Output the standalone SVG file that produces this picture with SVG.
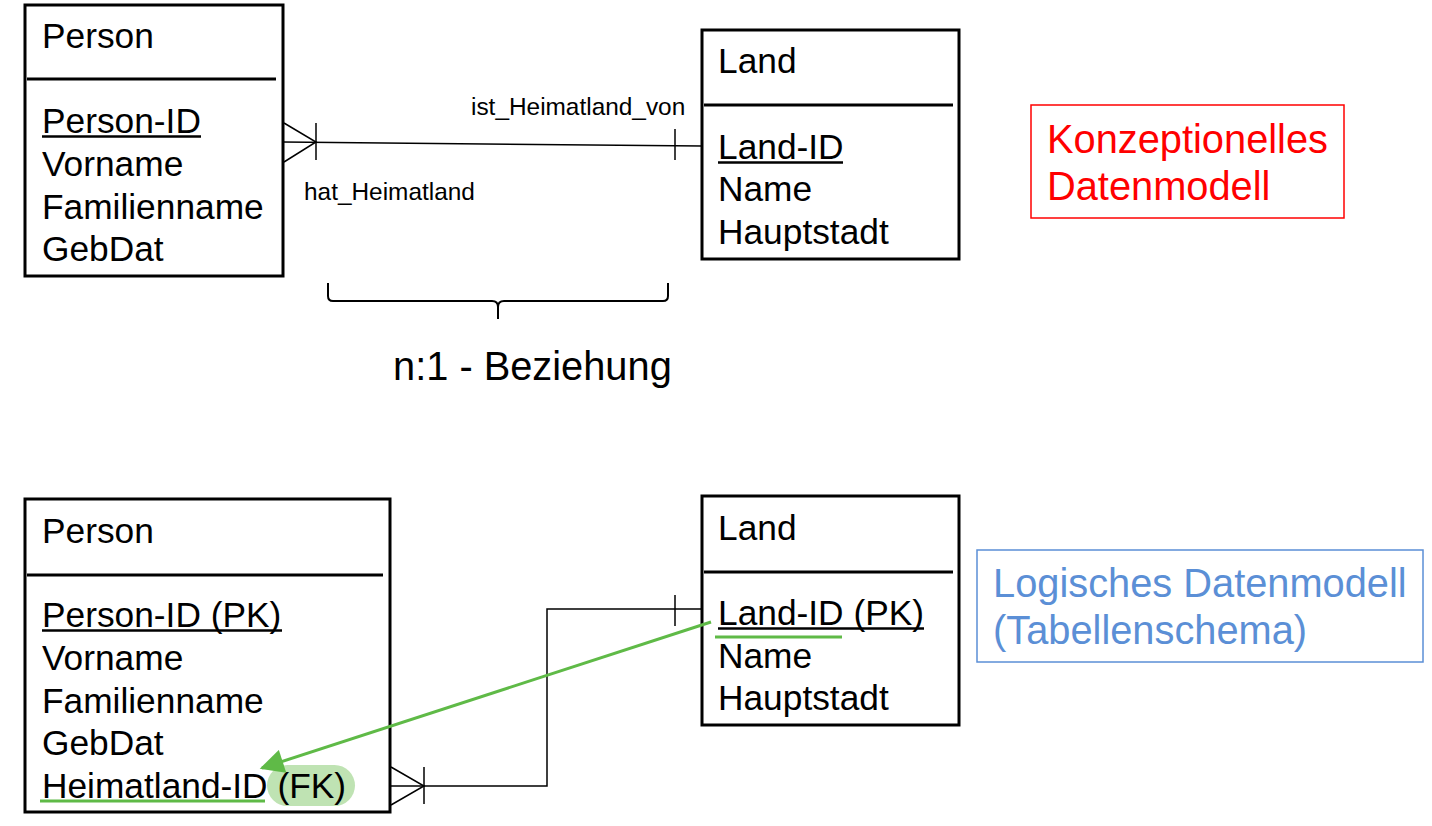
<svg xmlns="http://www.w3.org/2000/svg" width="1432" height="826" viewBox="0 0 1432 826">
<style>
.box{fill:#fff;stroke:#000;stroke-width:3}
.div{stroke:#000;stroke-width:3}
.t{font-family:"Liberation Sans",Arial,sans-serif;font-size:35.3px;fill:#000}
.ul{stroke:#000;stroke-width:2.4}
.lbl{font-family:"Liberation Sans",Arial,sans-serif;font-size:24.4px;fill:#000}
.big{font-family:"Liberation Sans",Arial,sans-serif;font-size:39.8px}
.con{fill:none;stroke:#000;stroke-width:1.5}
.green{stroke:#5fba47;stroke-width:3;fill:none}
</style>
<defs>
<marker id="garrow" viewBox="0 0 10 10" refX="9" refY="5" markerWidth="9" markerHeight="8" markerUnits="strokeWidth" orient="auto">
<path d="M0,0 L10,5 L0,10 z" fill="#5fba47"/>
</marker>
</defs>
<rect width="1432" height="826" fill="#fff"/>

<g id="person-top">
<rect class="box" x="25" y="5" width="258" height="271"/>
<line class="div" x1="27" y1="79" x2="276" y2="79"/>
<text class="t" x="42" y="48">Person</text>
<text class="t" x="42" y="133">Person-ID</text>
<line class="ul" x1="42" y1="136.5" x2="201" y2="136.5"/>
<text class="t" x="42" y="176">Vorname</text>
<text class="t" x="42" y="219">Familienname</text>
<text class="t" x="42" y="261">GebDat</text>
</g>

<g id="land-top">
<rect class="box" x="702" y="30" width="257" height="229"/>
<line class="div" x1="704" y1="105" x2="953" y2="105"/>
<text class="t" x="718" y="73">Land</text>
<text class="t" x="718" y="159">Land-ID</text>
<line class="ul" x1="718" y1="162.5" x2="843" y2="162.5"/>
<text class="t" x="718" y="201">Name</text>
<text class="t" x="718" y="244">Hauptstadt</text>
</g>

<g id="label-konzeptionell">
<rect x="1031" y="105" width="313" height="113" fill="#fff" stroke="#ff0000" stroke-width="1.5"/>
<text class="big" x="1047" y="153" fill="#ff0000">Konzeptionelles</text>
<text class="big" x="1047" y="200" fill="#ff0000">Datenmodell</text>
</g>

<g id="beziehung">
<path d="M328,283 L328,296 Q328,301 333,301 L492,301 Q498,301 498,307 L498,319 M498,307 Q498,301 504,301 L663,301 Q668,301 668,296 L668,283" fill="none" stroke="#000" stroke-width="2"/>
<text class="big" x="393" y="380" fill="#000">n:1 - Beziehung</text>
</g>

<g id="person-bottom">
<rect class="box" x="25" y="499" width="365" height="313"/>
<line class="div" x1="27" y1="575" x2="383" y2="575"/>
<text class="t" x="42" y="543">Person</text>
<text class="t" x="42" y="627">Person-ID (PK)</text>
<line class="ul" x1="42" y1="630.5" x2="282" y2="630.5"/>
<text class="t" x="42" y="670">Vorname</text>
<text class="t" x="42" y="713">Familienname</text>
<text class="t" x="42" y="755">GebDat</text>
<rect x="267" y="765" width="88" height="41" rx="20.5" fill="#bfe3b3"/>
<text class="t" x="42" y="798">Heimatland-ID (FK)</text>
<line class="green" x1="40" y1="801" x2="265" y2="801"/>
</g>

<g id="land-bottom">
<rect class="box" x="702" y="496" width="257" height="229"/>
<line class="div" x1="704" y1="572" x2="953" y2="572"/>
<text class="t" x="718" y="540">Land</text>
<text class="t" x="718" y="625">Land-ID (PK)</text>
<line class="ul" x1="718" y1="628.5" x2="924" y2="628.5"/>
<text class="t" x="718" y="668">Name</text>
<text class="t" x="718" y="710">Hauptstadt</text>
<line class="green" x1="715" y1="637" x2="842" y2="637"/>
</g>

<g id="label-logisch">
<rect x="977" y="550" width="446" height="112" fill="#fff" stroke="#5b8fd6" stroke-width="1.5"/>
<text class="big" x="993" y="597" fill="#5b8fd6">Logisches Datenmodell</text>
<text class="big" x="993" y="644" fill="#5b8fd6">(Tabellenschema)</text>
</g>

<g id="connectors">
<line class="con" x1="283" y1="142" x2="702" y2="146"/>
<path class="con" d="M284,123 L316,142 L284,162"/>
<line class="con" x1="316" y1="123" x2="316" y2="160"/>
<line class="con" x1="675" y1="129" x2="675" y2="160"/>
<text class="lbl" x="471" y="115">ist_Heimatland_von</text>
<text class="lbl" x="304" y="200">hat_Heimatland</text>

<path class="con" d="M390,786 L547,786 L547,609 L702,609"/>
<path class="con" d="M391,767 L424,786 L391,805"/>
<line class="con" x1="424" y1="767" x2="424" y2="804"/>
<line class="con" x1="675" y1="595" x2="675" y2="626"/>

<line x1="711" y1="622" x2="262" y2="768" stroke="#5fba47" stroke-width="3" marker-end="url(#garrow)"/>
</g>
</svg>
